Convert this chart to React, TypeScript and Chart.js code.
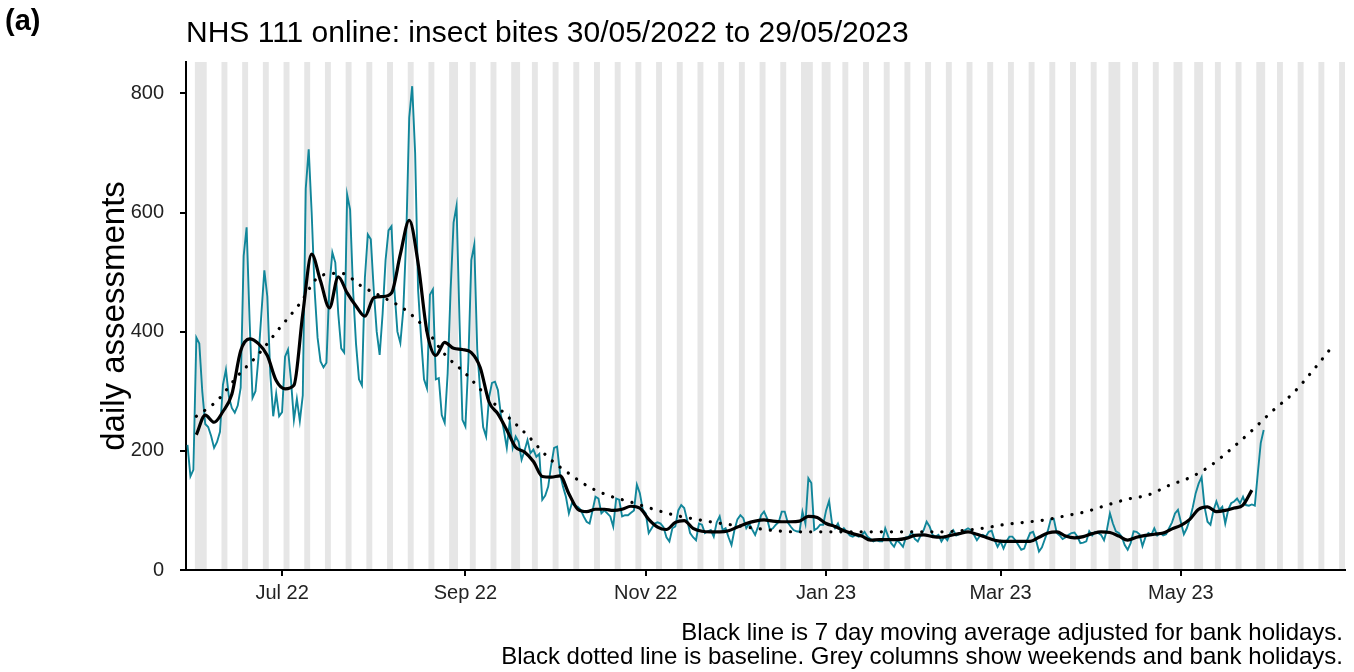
import React, { useEffect, useRef } from 'react';
import { Chart, registerables } from 'chart.js';

Chart.register(...registerables);

// ---------------- DATA ----------------
const seriesStartDate = '2022-05-30';
const axisEndDate = '2023-06-25';

// Daily NHS 111 online insect-bite assessments, 30/05/2022 .. 29/05/2023 (Mon..Sun per row)
const dailyAssessments: number[] = [
  210, 157, 168, 390, 380, 300, 245,
  240, 225, 205, 215, 232, 311, 336,
  291, 272, 264, 276, 306, 527, 575,
  420, 289, 300, 356, 430, 503, 459,
  330, 258, 296, 258, 265, 358, 370,
  319, 252, 287, 250, 293, 640, 706,
  600, 470, 390, 350, 340, 348, 476,
  533, 516, 430, 372, 365, 630, 605,
  470, 380, 320, 310, 490, 563, 555,
  470, 400, 361, 430, 520, 570, 577,
  470, 400, 381, 437, 560, 759, 812,
  700, 470, 390, 320, 305, 462, 471,
  320, 322, 260, 247, 330, 470, 583,
  611, 420, 252, 241, 350, 520, 546,
  370, 300, 240, 224, 290, 314, 316,
  302, 260, 235, 205, 250, 205, 224,
  215, 185, 200, 218, 196, 202, 190,
  195, 118, 125, 140, 175, 205, 207,
  162, 140, 123, 95, 112, 108, 106,
  101, 90, 81, 78, 100, 123, 120,
  95, 100, 95, 90, 73, 120, 118,
  90, 92, 92, 96, 100, 143, 129,
  101, 95, 62, 70, 78, 80, 78,
  72, 55, 48, 70, 73, 100, 109,
  104, 84, 62, 55, 50, 78, 76,
  62, 65, 67, 56, 80, 90, 67,
  70, 55, 42, 67, 85, 92, 87,
  70, 78, 68, 59, 73, 92, 98,
  87, 67, 70, 76, 81, 98, 98,
  80, 73, 67, 65, 64, 98, 78,
  154, 146, 67, 70, 76, 76, 100,
  116, 78, 70, 78, 64, 70, 64,
  58, 56, 59, 56, 58, 64, 56,
  52, 48, 50, 48, 48, 70, 56,
  45, 39, 50, 45, 39, 55, 56,
  64, 52, 48, 58, 67, 81, 73,
  59, 56, 59, 48, 56, 50, 62,
  67, 58, 60, 64, 67, 70, 67,
  59, 50, 57, 59, 56, 64, 66,
  50, 39, 48, 36, 48, 56, 56,
  50, 42, 34, 36, 50, 62, 64,
  50, 31, 38, 52, 66, 85, 86,
  62, 58, 52, 55, 59, 62, 63,
  56, 45, 46, 48, 65, 58, 64,
  62, 59, 50, 68, 95, 78, 65,
  62, 56, 42, 34, 45, 65, 64,
  60, 40, 55, 62, 59, 70, 58,
  62, 58, 60, 70, 80, 95, 101,
  80, 60, 70, 85, 105, 129, 145,
  156, 106, 81, 76, 100, 115, 101,
  106, 78, 101, 112, 115, 120, 112,
  123, 109, 108, 110, 108, 162, 213,
  235,
];

// 7 day moving average (read every 3rd day, from day 3 of the series)
const movingAverageFirstDay = 3;
const movingAverageEveryDays = 3;
const movingAverage: number[] = [
  227, 260, 248, 266, 295, 368, 388, 380, 360, 318,
  304, 310, 430, 530, 485, 440, 492, 465, 443, 426,
  457, 459, 465, 530, 587, 515, 400, 360, 382, 372,
  370, 365, 340, 282, 262, 235, 206, 198, 182, 157,
  156, 158, 128, 102, 98, 102, 102, 100, 102, 107,
  104, 85, 72, 68, 80, 83, 70, 65, 64, 64,
  66, 72, 78, 82, 84, 82, 81, 81, 82, 90,
  88, 78, 73, 66, 61, 57, 50, 51, 51, 51,
  53, 58, 59, 56, 55, 58, 61, 64, 60, 55,
  50, 48, 48, 48, 48, 55, 62, 64, 57, 54,
  56, 61, 64, 63, 57, 50, 55, 58, 60, 62,
  69, 75, 85, 102, 106, 98, 100, 104, 109, 134,
];

// Baseline (read weekly, from day 3 of the series, extends past the data)
const baselineFirstDay = 3;
const baselineEveryDays = 7;
const baseline: number[] = [
  258, 284, 326, 362, 405, 447, 494, 498, 476, 458,
  439, 408, 362, 330, 293, 259, 226, 189, 162, 139,
  124, 114, 103, 93, 86, 80, 75, 70, 66, 64,
  64, 64, 64, 64, 64, 64, 64, 66, 70, 76,
  80, 84, 91, 98, 109, 119, 126, 142, 155, 175,
  203, 234, 267, 297, 337, 380,
];

const xTickDates = ['2022-07-01', '2022-09-01', '2022-11-01', '2023-01-01', '2023-03-01', '2023-05-01'];
const xTickLabels = ['Jul 22', 'Sep 22', 'Nov 22', 'Jan 23', 'Mar 23', 'May 23'];
const yTickValues = [0, 200, 400, 600, 800];
const yAxisMax = 852.6;

const bankHolidays = [
  '2022-06-02', '2022-06-03', '2022-08-29', '2022-09-19', '2022-12-26', '2022-12-27',
  '2023-01-02', '2023-04-07', '2023-04-10', '2023-05-01', '2023-05-08', '2023-05-29',
];

const titleText = 'NHS 111 online: insect bites 30/05/2022 to 29/05/2023';
const panelLabel = '(a)';
const yAxisTitle = 'daily assessments';
const captionLines = [
  'Black line is 7 day moving average adjusted for bank holidays.',
  'Black dotted line is baseline. Grey columns show weekends and bank holidays.',
];

// ---------------- HELPERS ----------------
const DAY_MS = 86400000;
const startMs = Date.parse(seriesStartDate + 'T00:00:00Z');
const dayIndex = (iso: string) => Math.round((Date.parse(iso + 'T00:00:00Z') - startMs) / DAY_MS);
const lastAxisDay = dayIndex(axisEndDate);

const holidaySet = new Set(bankHolidays.map(dayIndex));
const greyDays: number[] = [];
for (let d = 0; d <= lastAxisDay; d++) {
  const dow = new Date(startMs + d * DAY_MS).getUTCDay();
  if (dow === 0 || dow === 6 || holidaySet.has(d)) greyDays.push(d);
}
const xTickDays = xTickDates.map(dayIndex);

const FONT = '"Liberation Sans", Arial, Helvetica, sans-serif';

const greyColumnsPlugin = {
  id: 'greyColumns',
  beforeDraw(chart: any) {
    const { ctx, chartArea, scales } = chart;
    const xs = scales.x;
    ctx.save();
    ctx.beginPath();
    ctx.rect(chartArea.left, chartArea.top, chartArea.right - chartArea.left, chartArea.bottom - chartArea.top);
    ctx.clip();
    ctx.fillStyle = '#e6e6e6';
    let i = 0;
    while (i < greyDays.length) {
      let j = i;
      while (j + 1 < greyDays.length && greyDays[j + 1] === greyDays[j] + 1) j++;
      const x0 = xs.getPixelForValue(greyDays[i] - 0.5);
      const x1 = xs.getPixelForValue(greyDays[j] + 0.5);
      ctx.fillRect(x0, chartArea.top, x1 - x0, chartArea.bottom - chartArea.top);
      i = j + 1;
    }
    ctx.restore();
  },
};

const textPlugin = {
  id: 'texts',
  afterDraw(chart: any) {
    const { ctx, chartArea } = chart;
    ctx.save();
    ctx.fillStyle = '#000';
    // panel label
    ctx.font = `bold 29px ${FONT}`;
    ctx.textAlign = 'left';
    ctx.textBaseline = 'alphabetic';
    ctx.fillText(panelLabel, 5, 30);
    // title
    ctx.font = `30px ${FONT}`;
    ctx.fillText(titleText, chartArea.left, 42);
    // y axis title
    ctx.save();
    ctx.translate(115, (chartArea.top + chartArea.bottom) / 2);
    ctx.rotate(-Math.PI / 2);
    ctx.textAlign = 'center';
    ctx.textBaseline = 'middle';
    ctx.font = `33px ${FONT}`;
    ctx.fillText(yAxisTitle, 0, 0);
    ctx.restore();
    // caption
    ctx.font = `24px ${FONT}`;
    ctx.textAlign = 'right';
    ctx.textBaseline = 'alphabetic';
    ctx.fillText(captionLines[0], 1343, 640);
    ctx.fillText(captionLines[1], 1343, 664);
    ctx.restore();
  },
};

export default function App() {
  const canvasRef = useRef<HTMLCanvasElement | null>(null);

  useEffect(() => {
    const canvas = canvasRef.current;
    if (!canvas) return;
    Chart.defaults.font.family = FONT;

    const dailyPoints = dailyAssessments.map((v, i) => ({ x: i, y: v }));
    const maPoints = movingAverage.map((v, i) => ({ x: movingAverageFirstDay + i * movingAverageEveryDays, y: v }));
    const basePoints = baseline.map((v, i) => ({ x: baselineFirstDay + i * baselineEveryDays, y: v }));

    const axisGrid = {
      display: true,
      drawOnChartArea: false,
      drawTicks: true,
      tickLength: 6,
      tickWidth: 2,
      tickColor: '#000',
      color: '#000',
      lineWidth: 2,
    };

    const chart = new Chart(canvas, {
      type: 'line',
      data: {
        datasets: [
          {
            label: '7 day moving average',
            data: maPoints,
            borderColor: '#000000',
            borderWidth: 3.2,
            pointRadius: 0,
            cubicInterpolationMode: 'monotone',
            order: 0,
          },
          {
            label: 'baseline',
            data: basePoints,
            borderColor: '#000000',
            borderWidth: 3.2,
            borderDash: [0.1, 10],
            borderCapStyle: 'round',
            pointRadius: 0,
            cubicInterpolationMode: 'monotone',
            order: 1,
          },
          {
            label: 'daily assessments',
            data: dailyPoints,
            borderColor: '#11869a',
            borderWidth: 1.9,
            pointRadius: 0,
            tension: 0,
            order: 2,
          },
        ],
      },
      options: {
        responsive: false,
        animation: false,
        events: [],
        parsing: false,
        layout: { padding: { top: 62, right: 9, left: 0, bottom: 0 } },
        plugins: {
          legend: { display: false },
          tooltip: { enabled: false },
          title: { display: false },
        },
        scales: {
          x: {
            type: 'linear',
            min: -0.5,
            max: lastAxisDay + 0.5,
            afterFit: (s: any) => { s.height = 102; },
            afterBuildTicks: (s: any) => { s.ticks = xTickDays.map((v) => ({ value: v })); },
            ticks: {
              callback: (_v: any, i: number) => xTickLabels[i],
              font: { size: 20, family: FONT },
              color: '#222222',
              padding: 5,
              autoSkip: false,
              maxRotation: 0,
            },
            grid: axisGrid,
            border: { display: true, color: '#000', width: 2 },
          },
          y: {
            type: 'linear',
            min: 0,
            max: yAxisMax,
            afterFit: (s: any) => { s.width = 186; },
            afterBuildTicks: (s: any) => { s.ticks = yTickValues.map((v) => ({ value: v })); },
            ticks: {
              font: { size: 20, family: FONT },
              color: '#222222',
              padding: 16,
            },
            grid: axisGrid,
            border: { display: true, color: '#000', width: 2 },
          },
        },
      } as any,
      plugins: [greyColumnsPlugin, textPlugin],
    });

    return () => chart.destroy();
  }, []);

  return (
    <div style={{ position: 'fixed', left: 0, top: 0, width: 1354, height: 672, background: '#fff' }}>
      <canvas ref={canvasRef} width={1354} height={672} style={{ display: 'block' }} />
    </div>
  );
}
